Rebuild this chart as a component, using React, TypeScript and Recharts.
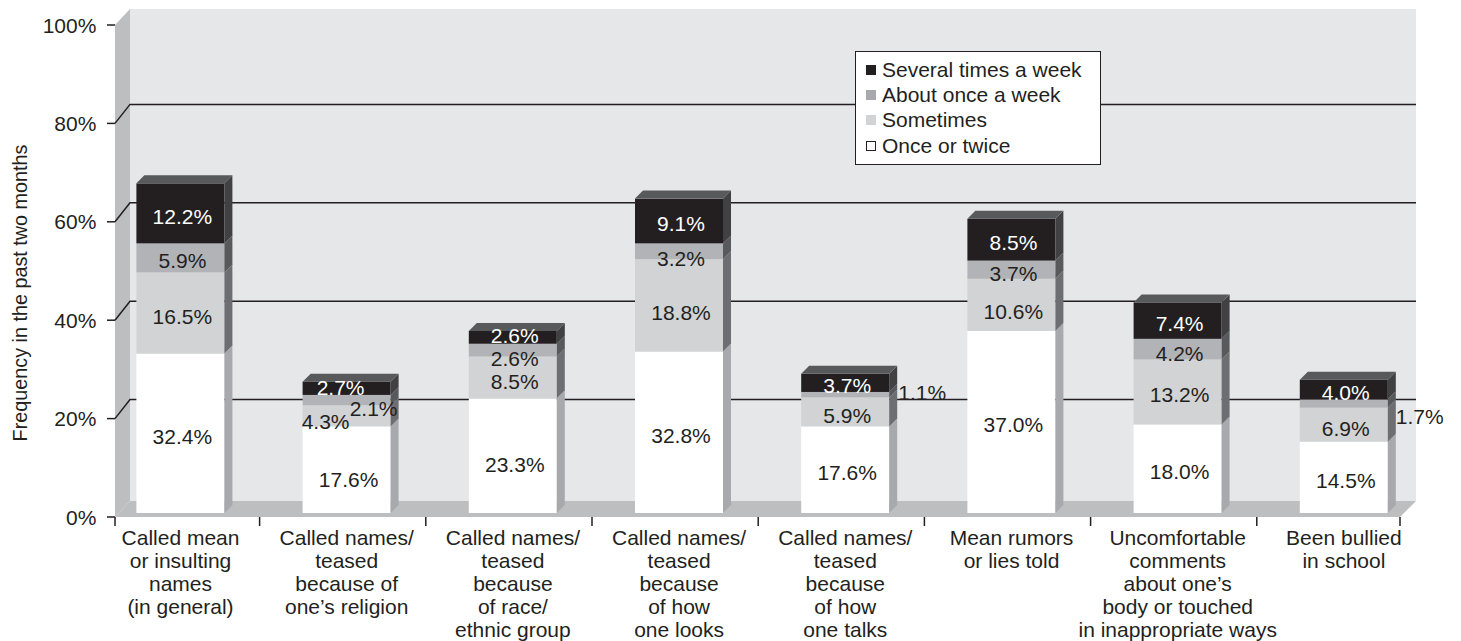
import React from 'react';
import { BarChart, Bar, XAxis, YAxis, ReferenceArea, LabelList, Legend } from 'recharts';

const categoryLines: string[][] = [
  ['Called mean', 'or insulting', 'names', '(in general)'],
  ['Called names/', 'teased', 'because of', 'one\u2019s religion'],
  ['Called names/', 'teased', 'because', 'of race/', 'ethnic group'],
  ['Called names/', 'teased', 'because', 'of how', 'one looks'],
  ['Called names/', 'teased', 'because', 'of how', 'one talks'],
  ['Mean rumors', 'or lies told'],
  ['Uncomfortable', 'comments', 'about one\u2019s', 'body or touched', 'in inappropriate ways'],
  ['Been bullied', 'in school'],
];
const categories = categoryLines.map((l) => l.join(' '));

const onceOrTwice = [32.4, 17.6, 23.3, 32.8, 17.6, 37.0, 18.0, 14.5];
const sometimes = [16.5, 4.3, 8.5, 18.8, 5.9, 10.6, 13.2, 6.9];
const onceAWeek = [5.9, 2.1, 2.6, 3.2, 1.1, 3.7, 4.2, 1.7];
const severalTimes = [12.2, 2.7, 2.6, 9.1, 3.7, 8.5, 7.4, 4.0];

const yTicks = [0, 20, 40, 60, 80, 100];
const gridValues = [20, 40, 60, 80];
const legendOrder = ['several', 'week', 'sometimes', 'once'];

const data = categories.map((name, i) => ({
  name,
  once: onceOrTwice[i],
  sometimes: sometimes[i],
  week: onceAWeek[i],
  several: severalTimes[i],
}));

const FONT = '"Liberation Sans", Arial, Helvetica, sans-serif';
const INK = '#231f20';
const FS = 21;

// label nudges (px) for a few crowded labels: [dx, dy]
const labelNudge: Record<string, [number, number]> = {
  'once-1': [0, 7],
  'once-2': [0, 6],
  'sometimes-1': [-23, 3],
  'week-1': [25, 5],
  'several-1': [-8, -4],
  'sometimes-2': [0, 1],
  'week-2': [0, 5],
  'several-2': [0, -5],
  'sometimes-3': [0, 4],
  'week-3': [0, 4],
  'sometimes-4': [0, 1],
  'week-4': [75, -5],
  'sometimes-5': [0, 4],
  'week-5': [0, 1],
  'week-6': [0, 1],
  'week-7': [74, 10],
  'sometimes-7': [0, 1],
};

const D = 8;
const makeShape = (front: string, side: string, top?: string) => (props: any) => {
  const { x, y, width, height } = props;
  if (!height || height <= 0) return <g />;
  return (
    <g>
      <rect x={x} y={y} width={width} height={height} fill={front} />
      <polygon
        points={`${x + width},${y} ${x + width + D},${y - D} ${x + width + D},${y + height - D} ${x + width},${y + height}`}
        fill={side}
      />
      {top && (
        <polygon points={`${x},${y} ${x + D},${y - D} ${x + width + D},${y - D} ${x + width},${y}`} fill={top} />
      )}
    </g>
  );
};

const makeLabel = (key: string, color: string) => (props: any) => {
  const { x, y, width, height, value, index } = props;
  const nudge = labelNudge[`${key}-${index}`] || [0, 0];
  const cx = x + width / 2 + 2 + nudge[0];
  const cy = y + height / 2 + 3 + nudge[1];
  const outside = nudge[0] > 50;
  return (
    <text
      x={cx}
      y={cy}
      textAnchor="middle"
      dominantBaseline="central"
      fontFamily={FONT}
      fontSize={FS}
      fill={outside ? INK : color}
    >
      {Number(value).toFixed(1)}%
    </text>
  );
};

const Walls = (props: any) => {
  const { x, y, width, height } = props;
  const FL = x + 17.6;
  const FR = x + width - 27;
  const FB = y + height + 4;
  const FT = y + 4;
  const BL = FL + 15;
  const BR = FR + 16;
  const BT = FT - 16;
  const BB = FB - 16;
  return (
    <g>
      <rect x={BL} y={BT} width={BR - BL} height={BB - BT} fill="#e6e7e8" />
      <polygon points={`${FL},${FT} ${BL},${BT} ${BL},${BB} ${FL},${FB}`} fill="#bcbec0" />
      <polygon points={`${FL},${FB} ${BL},${BB} ${BR},${BB} ${FR},${FB}`} fill="#bcbec0" />
      {gridValues.map((v) => {
        const yf = FB - (v / 100) * height;
        return (
          <polyline
            key={v}
            points={`${FL},${yf} ${BL},${yf - 19} ${BR},${yf - 19}`}
            fill="none"
            stroke={INK}
            strokeWidth={1.5}
          />
        );
      })}
    </g>
  );
};

const YTick = (props: any) => {
  const { x, y, payload } = props;
  const fy = y + 4;
  return (
    <g>
      <line x1={x + 9.6} x2={x + 17.6} y1={fy} y2={fy} stroke={INK} strokeWidth={1.5} />
      {payload.value === 0 && (
        <line x1={x + 17.6} x2={x + 17.6} y1={fy} y2={fy + 9} stroke={INK} strokeWidth={1.5} />
      )}
      <text x={x - 1} y={fy} textAnchor="end" dominantBaseline="central" fontFamily={FONT} fontSize={FS} fill={INK}>
        {payload.value}%
      </text>
    </g>
  );
};

const XTick = (props: any) => {
  const { x, y, payload, index } = props;
  const half = payload && typeof payload.offset === 'number' && payload.offset > 0 ? payload.offset : 83.1;
  const lines = categoryLines[index] || [String(payload.value)];
  const last = index === categoryLines.length - 1;
  const bx = last ? x + half - 27 : x + half - 4;
  return (
    <g>
      <line x1={bx} x2={bx} y1={y + 4} y2={y + 13} stroke={INK} strokeWidth={1.5} />
      {lines.map((t, i) => (
        <text
          key={i}
          x={x}
          y={y + 24 + i * 23}
          textAnchor="middle"
          dominantBaseline="central"
          fontFamily={FONT}
          fontSize={FS}
          fill={INK}
        >
          {t}
        </text>
      ))}
    </g>
  );
};

const YTitle = (props: any) => {
  const vb = props.viewBox || { x: 37.4, y: 21, width: 60, height: 492 };
  const cx = vb.x - 17;
  const cy = vb.y + vb.height / 2 + 26;
  return (
    <text
      x={cx}
      y={cy}
      transform={`rotate(-90, ${cx}, ${cy})`}
      textAnchor="middle"
      dominantBaseline="central"
      fontFamily={FONT}
      fontSize={19.8}
      fill={INK}
    >
      Frequency in the past two months
    </text>
  );
};

const legendMarker: Record<string, { bg: string; border: string }> = {
  several: { bg: '#231f20', border: 'none' },
  week: { bg: '#a7a9ac', border: 'none' },
  sometimes: { bg: '#d1d3d4', border: 'none' },
  once: { bg: '#ffffff', border: `1px solid ${INK}` },
};

const renderLegend = (props: any) => {
  const items = [...(props.payload || [])].sort(
    (a: any, b: any) => legendOrder.indexOf(a.dataKey) - legendOrder.indexOf(b.dataKey)
  );
  return (
    <div
      style={{
        boxSizing: 'border-box',
        width: 246,
        height: 114,
        border: `1.5px solid ${INK}`,
        background: '#ffffff',
        paddingTop: 5,
        fontFamily: FONT,
        fontSize: FS,
        color: INK,
      }}
    >
      {items.map((it: any) => {
        const m = legendMarker[it.dataKey] || { bg: it.color, border: 'none' };
        return (
          <div key={it.dataKey} style={{ display: 'flex', alignItems: 'center', height: 25.3, paddingLeft: 10 }}>
            <span
              style={{
                boxSizing: 'border-box',
                display: 'inline-block',
                width: 10,
                height: 10,
                background: m.bg,
                border: m.border,
                marginRight: 6,
              }}
            />
            <span style={{ lineHeight: '22px' }}>{it.value}</span>
          </div>
        );
      })}
    </div>
  );
};

export default function App() {
  return (
    <div style={{ position: 'absolute', left: 0, top: 0, width: 1461, height: 641, background: '#ffffff' }}>
      <BarChart
        width={1461}
        height={641}
        data={data}
        margin={{ top: 21, right: 34, bottom: 28, left: 37.4 }}
        barSize={88}
      >
        <ReferenceArea y1={0} y2={100} shape={Walls} ifOverflow="visible" />
        <XAxis
          dataKey="name"
          interval={0}
          axisLine={false}
          tickLine={false}
          tickSize={0}
          tickMargin={0}
          height={100}
          tick={XTick}
        />
        <YAxis
          type="number"
          domain={[0, 100]}
          ticks={yTicks}
          interval={0}
          axisLine={false}
          tickLine={false}
          tickSize={0}
          tickMargin={0}
          width={60}
          tick={YTick}
          label={{ value: 'Frequency in the past two months', content: YTitle }}
        />
        <Legend
          layout="vertical"
          align="center"
          verticalAlign="middle"
          content={renderLegend}
          wrapperStyle={{ position: 'absolute', left: 855, top: 51, width: 246, height: 114 }}
        />
        <Bar
          dataKey="once"
          name="Once or twice"
          stackId="a"
          fill="#ffffff"
          isAnimationActive={false}
          shape={makeShape('#ffffff', '#a7a9ac')}
        >
          <LabelList dataKey="once" content={makeLabel('once', INK)} />
        </Bar>
        <Bar
          dataKey="sometimes"
          name="Sometimes"
          stackId="a"
          fill="#d1d3d4"
          isAnimationActive={false}
          shape={makeShape('#d1d3d4', '#6d6e71')}
        >
          <LabelList dataKey="sometimes" content={makeLabel('sometimes', INK)} />
        </Bar>
        <Bar
          dataKey="week"
          name="About once a week"
          stackId="a"
          fill="#b1b3b6"
          isAnimationActive={false}
          shape={makeShape('#b1b3b6', '#58595b')}
        >
          <LabelList dataKey="week" content={makeLabel('week', INK)} />
        </Bar>
        <Bar
          dataKey="several"
          name="Several times a week"
          stackId="a"
          fill="#231f20"
          isAnimationActive={false}
          shape={makeShape('#231f20', '#414042', '#58595b')}
        >
          <LabelList dataKey="several" content={makeLabel('several', '#ffffff')} />
        </Bar>
      </BarChart>
    </div>
  );
}
